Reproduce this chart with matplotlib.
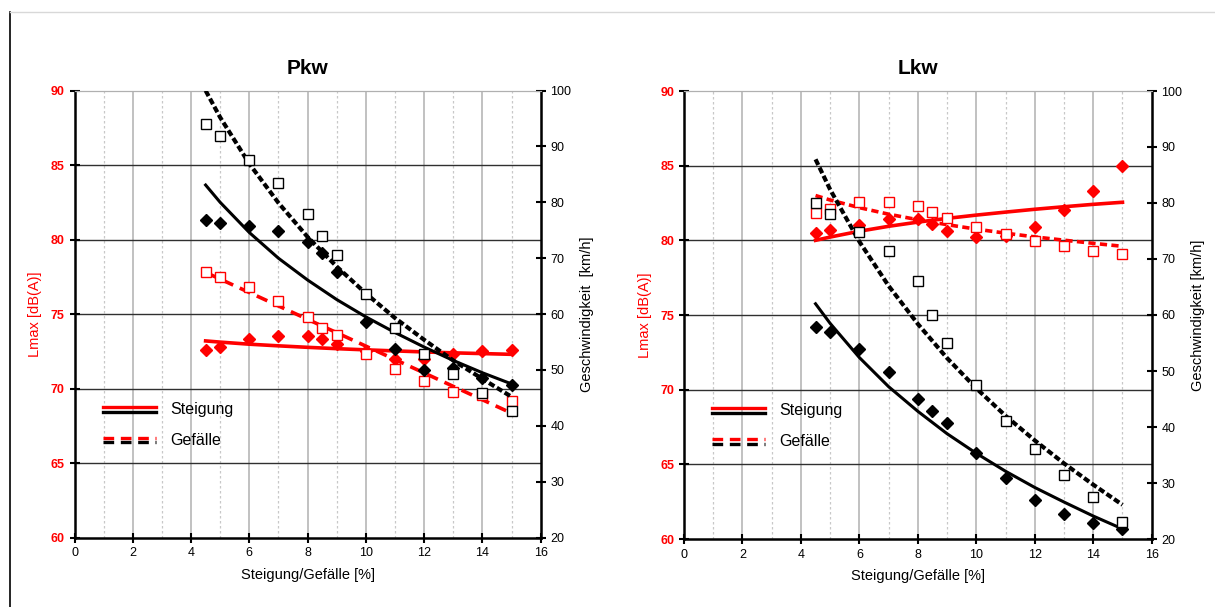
import matplotlib
matplotlib.use("Agg")
import matplotlib.pyplot as plt
import matplotlib.ticker as ticker
from matplotlib.lines import Line2D
from matplotlib.legend_handler import HandlerBase

plt.rcParams["font.family"] = ["Liberation Sans", "DejaVu Sans"]

RED = "#FF0000"

# ── data: Pkw ─────────────────────────────────────────────────────────────────
pkw_x = [4.5, 5, 6, 7, 8, 8.5, 9, 10, 11, 12, 13, 14, 15]
pkw_lmax_up = [72.6, 72.8, 73.3, 73.5, 73.5, 73.3, 73.0, 72.5, 72.0, 72.0, 72.3, 72.5, 72.6]
pkw_lmax_down = [77.8, 77.5, 76.8, 75.9, 74.8, 74.1, 73.6, 72.3, 71.3, 70.5, 69.8, 69.6, 69.2]
pkw_v_up = [76.9, 76.3, 75.7, 74.8, 72.9, 70.9, 67.6, 58.6, 53.7, 50.0, 50.4, 48.5, 47.4]
pkw_v_down = [94.0, 91.9, 87.5, 83.5, 77.9, 73.9, 70.5, 63.6, 57.6, 52.9, 49.2, 45.8, 42.7]

# trend lines
trend_x = [4.5, 5, 6, 7, 8, 9, 10, 11, 12, 13, 14, 15]
pkw_lmax_up_fit = [73.2, 73.12, 72.98, 72.87, 72.77, 72.68, 72.60, 72.53, 72.46, 72.40, 72.35, 72.3]
pkw_lmax_down_fit = [77.8, 77.35, 76.45, 75.55, 74.65, 73.75, 72.85, 71.95, 71.05, 70.15, 69.25, 68.35]
pkw_v_up_fit = [83.1, 80.0, 74.6, 70.0, 66.1, 62.6, 59.5, 56.7, 54.1, 51.7, 49.5, 47.5]
pkw_v_down_fit = [100.0, 95.2, 86.9, 79.9, 73.8, 68.5, 63.7, 59.3, 55.4, 51.7, 48.4, 45.2]

# ── data: Lkw ─────────────────────────────────────────────────────────────────
lkw_x = [4.5, 5, 6, 7, 8, 8.5, 9, 10, 11, 12, 13, 14, 15]
lkw_lmax_up = [80.5, 80.7, 81.0, 81.4, 81.4, 81.1, 80.6, 80.2, 80.3, 80.9, 82.0, 83.3, 85.0]
lkw_lmax_down = [81.8, 82.1, 82.6, 82.6, 82.3, 81.9, 81.5, 80.9, 80.4, 79.95, 79.6, 79.3, 79.1]
lkw_v_up = [57.8, 56.9, 53.9, 49.9, 45.0, 42.8, 40.8, 35.4, 30.9, 26.9, 24.4, 22.9, 21.8]
lkw_v_down = [80.0, 78.0, 74.9, 71.4, 66.1, 60.0, 55.0, 47.5, 41.0, 36.0, 31.5, 27.5, 23.0]

lkw_lmax_up_fit = [80.0, 80.22, 80.61, 80.94, 81.22, 81.47, 81.69, 81.89, 82.08, 82.25, 82.41, 82.55]
lkw_lmax_down_fit = [83.0, 82.7, 82.19, 81.75, 81.38, 81.05, 80.75, 80.48, 80.23, 80.01, 79.80, 79.6]
lkw_v_up_fit = [62.0, 58.5, 52.4, 47.2, 42.8, 38.8, 35.3, 32.1, 29.2, 26.6, 24.1, 21.8]
lkw_v_down_fit = [87.8, 82.4, 73.1, 65.2, 58.4, 52.3, 46.9, 42.0, 37.6, 33.5, 29.7, 26.1]

LEGEND_DASH = (0, (3.2, 2.0))


class HandlerPair(HandlerBase):
    """red line above black line, same line style"""
    def create_artists(self, legend, orig_handle, xdescent, ydescent,
                       width, height, fontsize, trans):
        ls = "-" if orig_handle.get_linestyle() == "-" else LEGEND_DASH
        x0, x1 = -xdescent, -xdescent + width
        top = Line2D([x0, x1], [0.6 * height] * 2, color=RED, lw=2.4,
                     linestyle=ls, transform=trans)
        bot = Line2D([x0, x1], [0.22 * height] * 2, color="black", lw=2.4,
                     linestyle=ls, transform=trans)
        return [top, bot]


def panel(rect, title, ylabel2, x, lmax_up, lmax_down, v_up, v_down,
          lmax_up_fit, lmax_down_fit, v_up_fit, v_down_fit, red_dash, blk_dash):
    ax = fig.add_axes(rect)
    ax2 = ax.twinx()

    ax.set_xlim(0, 16)
    ax.set_ylim(60, 90)
    ax2.set_ylim(20, 100)
    ax.set_xticks(range(0, 17, 2))
    ax.xaxis.set_minor_locator(ticker.MultipleLocator(1))
    ax.set_yticks(range(60, 91, 5))
    ax2.set_yticks(range(20, 101, 10))

    # grid
    for xv in range(2, 16, 2):
        ax.axvline(xv, color="#bcbcbc", lw=1.3, zorder=0)
    for xv in range(1, 16, 2):
        ax.axvline(xv, color="#c8c8c8", lw=0.9, ls=(0, (2, 2)), zorder=0)
    for yv in range(65, 90, 5):
        ax.axhline(yv, color="#303030", lw=1.0, zorder=0)

    ax.spines["top"].set_color("#b0b0b0")
    ax2.spines["top"].set_color("#b0b0b0")
    for s in ("left", "bottom"):
        ax.spines[s].set_linewidth(1.8)
    ax2.spines["right"].set_linewidth(1.8)
    ax2.spines["left"].set_visible(False)
    ax2.spines["bottom"].set_visible(False)

    ax.tick_params(axis="both", which="major", direction="inout", length=7,
                   width=1.5, labelsize=9)
    ax.tick_params(axis="x", which="minor", length=0)
    ax.tick_params(axis="y", labelcolor=RED)
    for lab in ax.get_yticklabels():
        lab.set_fontweight("bold")
    ax2.tick_params(axis="y", direction="inout", length=7, width=1.5, labelsize=9)

    ax.set_title(title, fontsize=15, fontweight="bold", pad=12)
    ax.set_xlabel("Steigung/Gefälle [%]", fontsize=10.5, labelpad=6)
    ax.set_ylabel("Lmax [dB(A)]", fontsize=10.5, color=RED, labelpad=6)
    ax2.set_ylabel(ylabel2, fontsize=10.5, labelpad=6)

    # Lmax (left axis)
    ax.plot(trend_x, lmax_up_fit, color=RED, lw=2.6, zorder=3)
    ax.plot(trend_x, lmax_down_fit, color=RED, lw=2.6, ls=(0, red_dash), zorder=3)
    ax.plot(x, lmax_up, "D", color=RED, ms=6.5, zorder=4)
    ax.plot(x, lmax_down, "s", mfc="white", mec=RED, mew=1.0, ms=7, zorder=4)

    # speed (right axis)
    ax2.plot(trend_x, v_up_fit, color="black", lw=2.2, zorder=3)
    ax2.plot(trend_x, v_down_fit, color="black", lw=3.0, ls=(0, blk_dash), zorder=3)
    ax2.plot(x, v_up, "D", color="black", ms=6.5, zorder=4)
    ax2.plot(x, v_down, "s", mfc="white", mec="black", mew=1.0, ms=7, zorder=4)

    h_up = Line2D([0], [0], ls="-")
    h_dn = Line2D([0], [0], ls="--")
    ax2.legend([h_up, h_dn], ["Steigung", "Gefälle"],
               handler_map={Line2D: HandlerPair()},
               loc="center left", bbox_to_anchor=(0.03, 0.252),
               frameon=False, fontsize=11.5, handlelength=3.3,
               handletextpad=0.9, labelspacing=1.0)
    return ax, ax2


fig = plt.figure(figsize=(12.15, 6.07), dpi=100)

panel([74.5 / 1215, 1 - 537.6 / 607, 466.2 / 1215, 447 / 607],
      "Pkw", "Geschwindigkeit  [km/h]", pkw_x,
      pkw_lmax_up, pkw_lmax_down, pkw_v_up, pkw_v_down,
      pkw_lmax_up_fit, pkw_lmax_down_fit, pkw_v_up_fit, pkw_v_down_fit,
      red_dash=(3.2, 2.0), blk_dash=(1.5, 0.7))

panel([684 / 1215, 1 - 539 / 607, 467.7 / 1215, 448 / 607],
      "Lkw", "Geschwindigkeit [km/h]", lkw_x,
      lkw_lmax_up, lkw_lmax_down, lkw_v_up, lkw_v_down,
      lkw_lmax_up_fit, lkw_lmax_down_fit, lkw_v_up_fit, lkw_v_down_fit,
      red_dash=(2.0, 1.2), blk_dash=(1.5, 0.7))

# screenshot frame
fig.add_artist(Line2D([9.5 / 1215, 9.5 / 1215], [0, 1 - 12 / 607],
                      color="black", lw=1.2, transform=fig.transFigure))
fig.add_artist(Line2D([9.5 / 1215, 1], [1 - 12 / 607, 1 - 12 / 607],
                      color="#d8d8d8", lw=1.0, transform=fig.transFigure))

fig.savefig("out.png", dpi=100)
